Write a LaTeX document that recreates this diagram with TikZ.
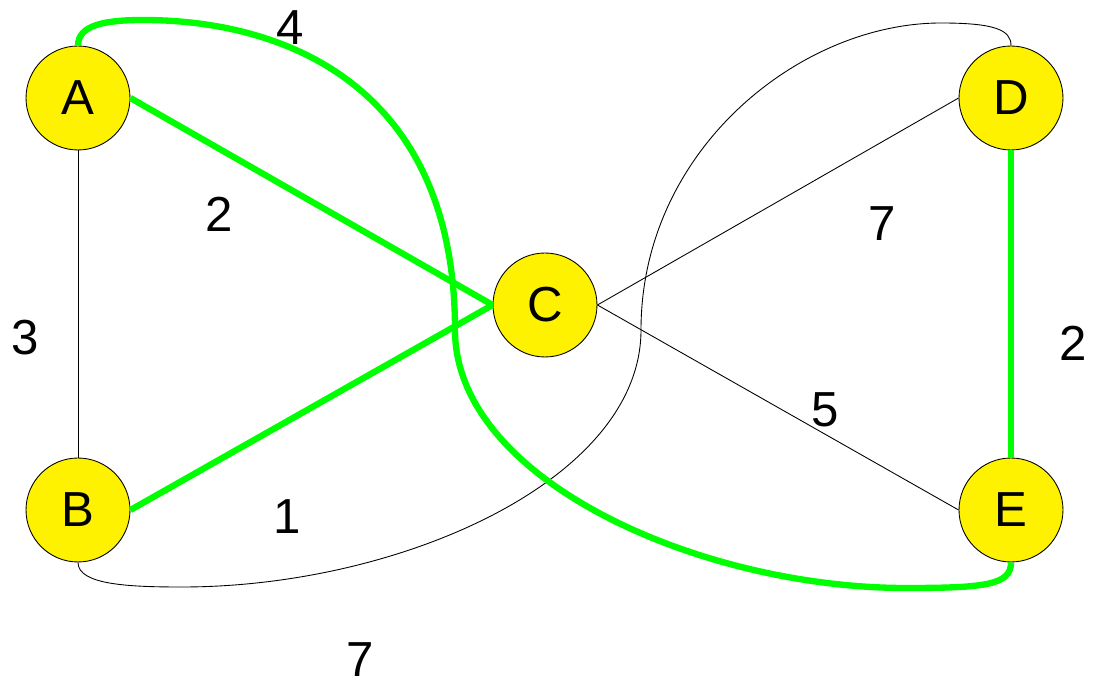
\documentclass[tikz,border=0pt]{standalone}
\usepackage{fontspec}
\setmainfont{Liberation Sans}

\begin{document}
\begin{tikzpicture}[x=0.02cm, y=-0.02cm,
  vertex/.style={circle, draw=black, line width=0.5pt, fill=yellow, minimum size=2.08cm, inner sep=0pt, font=\fontsize{28}{32}\selectfont},
  plain/.style={draw=black, line width=0.5pt},
  mst/.style={draw=green, line width=3.6pt},
  weight/.style={inner sep=0pt, font=\fontsize{28}{32}\selectfont}]
  \useasboundingbox (0,0) rectangle (1096,685);
  \node[vertex] (a) at (78,98)   {A};
  \node[vertex] (b) at (78,510)  {B};
  \node[vertex] (c) at (545,305) {C};
  \node[vertex] (d) at (1011,98) {D};
  \node[vertex] (e) at (1011,510) {E};

  % thin edges
  \draw[plain] (a.south) -- (b.north);
  \draw[plain] (c.east) -- (d.west);
  \draw[plain] (c.east) -- (e.west);
  \draw[plain] (b.south) .. controls (78,585) and (130,587) .. (182,587)
    .. controls (400,587) and (641,480) .. (641,330)
    .. controls (641,150) and (800,23) .. (941,23)
    .. controls (995,23) and (1011,30) .. (d.north);

  % spanning tree
  \draw[mst] (a.east) -- (c.west);
  \draw[mst] (b.east) -- (c.west);
  \draw[mst] (d.south) -- (e.north);
  \draw[mst] (a.north) .. controls (78,25) and (105,20) .. (143,20)
    .. controls (290,20) and (455,90) .. (455,330)
    .. controls (455,480) and (700,588) .. (906,588)
    .. controls (985,588) and (1011,585) .. (e.south);

  % weights
  \node[weight] (wab) at (25,338)   {3};
  \node[weight] (wac) at (219,214)  {2};
  \node[weight] (wae) at (290,28)   {4};
  \node[weight] (wbc) at (287,517)  {1};
  \node[weight] (wbd) at (360,660)  {7};
  \node[weight] (wcd) at (882,224)  {7};
  \node[weight] (wce) at (825,410)  {5};
  \node[weight] (wde) at (1073,343) {2};
\end{tikzpicture}
\end{document}
